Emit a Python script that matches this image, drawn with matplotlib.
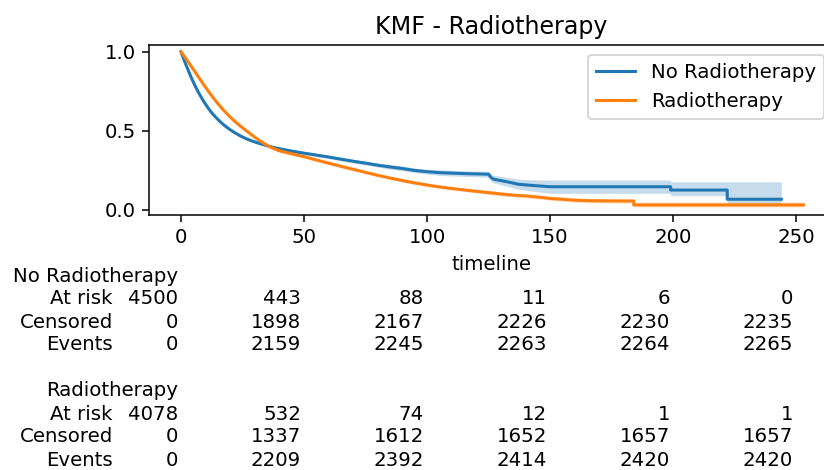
import matplotlib
matplotlib.use("Agg")
import matplotlib.pyplot as plt
from matplotlib import transforms

# Kaplan-Meier curves
# (a time repeated twice marks a visible drop in the curve)
nr_label = "No Radiotherapy"
nr_time = [0, 1, 2, 3, 4, 5, 6, 7, 8, 9, 10, 11, 12, 13, 14, 15, 16, 17, 18, 19, 20,
           22, 24, 26, 28, 30, 32, 34, 36, 38, 40,
           45, 50, 55, 60, 65, 70, 75, 80, 85, 90, 95, 100, 105, 110, 115, 120,
           125, 126, 127, 132, 137, 142, 150, 199, 199, 222, 222, 244]
nr_surv = [1.0, 0.958, 0.918, 0.88, 0.843, 0.808, 0.776, 0.746, 0.718, 0.692, 0.668,
           0.645, 0.624, 0.605, 0.588, 0.572, 0.557, 0.543, 0.53, 0.518, 0.507,
           0.487, 0.469, 0.454, 0.441, 0.43, 0.42, 0.411, 0.402, 0.394, 0.387,
           0.372, 0.359, 0.347, 0.335, 0.321, 0.308, 0.296, 0.283, 0.272, 0.262,
           0.25, 0.242, 0.236, 0.233, 0.23, 0.228,
           0.226, 0.205, 0.195, 0.18, 0.163, 0.156, 0.147, 0.147, 0.126, 0.126,
           0.068, 0.068]
nr_lower = [1.0, 0.952, 0.912, 0.874, 0.837, 0.802, 0.770, 0.740, 0.712, 0.686, 0.662,
            0.638, 0.617, 0.598, 0.581, 0.565, 0.550, 0.536, 0.523, 0.511, 0.500,
            0.479, 0.461, 0.446, 0.433, 0.422, 0.412, 0.403, 0.394, 0.386, 0.379,
            0.362, 0.349, 0.337, 0.325, 0.309, 0.296, 0.284, 0.271, 0.257, 0.247,
            0.235, 0.227, 0.218, 0.215, 0.212, 0.210,
            0.207, 0.183, 0.171, 0.152, 0.131, 0.121, 0.105, 0.105, 0.09, 0.09,
            0.035, 0.035]
nr_upper = [1.0, 0.964, 0.924, 0.886, 0.849, 0.814, 0.782, 0.752, 0.724, 0.698, 0.674,
            0.652, 0.631, 0.612, 0.595, 0.579, 0.564, 0.550, 0.537, 0.525, 0.514,
            0.495, 0.477, 0.462, 0.449, 0.438, 0.428, 0.419, 0.410, 0.402, 0.395,
            0.382, 0.369, 0.357, 0.345, 0.333, 0.320, 0.308, 0.295, 0.287, 0.277,
            0.265, 0.257, 0.254, 0.251, 0.248, 0.246,
            0.245, 0.227, 0.219, 0.208, 0.195, 0.191, 0.189, 0.189, 0.178, 0.178,
            0.178, 0.178]

rt_label = "Radiotherapy"
rt_time = [0, 1, 2, 3, 4, 5, 6, 7, 8, 9, 10, 11, 12, 13, 14, 15, 16, 17, 18, 19, 20,
           22, 24, 26, 28, 30, 32, 34, 36, 38, 40,
           45, 50, 55, 60, 65, 70, 75, 80, 85, 90, 95, 100, 105, 110, 115, 120,
           125, 130, 135, 140, 145, 150, 155, 160, 165, 170, 175, 184, 184, 253]
rt_surv = [1.0, 0.978, 0.956, 0.934, 0.912, 0.889, 0.866, 0.843, 0.82, 0.797, 0.775,
           0.753, 0.732, 0.711, 0.691, 0.672, 0.654, 0.636, 0.619, 0.603, 0.587,
           0.558, 0.532, 0.507, 0.484, 0.46, 0.438, 0.418, 0.40, 0.386, 0.374,
           0.355, 0.337, 0.316, 0.296, 0.276, 0.257, 0.238, 0.219, 0.202, 0.186,
           0.171, 0.158, 0.146, 0.136, 0.127, 0.118,
           0.11, 0.101, 0.094, 0.089, 0.082, 0.073, 0.068, 0.062, 0.059, 0.058,
           0.057, 0.057, 0.032, 0.032]
rt_lower = [1.0, 0.972, 0.950, 0.928, 0.906, 0.883, 0.860, 0.837, 0.814, 0.791, 0.769,
            0.747, 0.726, 0.705, 0.685, 0.666, 0.648, 0.630, 0.613, 0.597, 0.581,
            0.550, 0.524, 0.499, 0.476, 0.452, 0.430, 0.410, 0.392, 0.378, 0.366,
            0.346, 0.328, 0.307, 0.287, 0.267, 0.248, 0.229, 0.210, 0.192, 0.176,
            0.161, 0.148, 0.136, 0.126, 0.117, 0.108,
            0.098, 0.089, 0.082, 0.077, 0.070, 0.061, 0.055, 0.049, 0.046, 0.045,
            0.044, 0.044, 0.019, 0.019]
rt_upper = [1.0, 0.984, 0.962, 0.940, 0.918, 0.895, 0.872, 0.849, 0.826, 0.803, 0.781,
            0.759, 0.738, 0.717, 0.697, 0.678, 0.660, 0.642, 0.625, 0.609, 0.593,
            0.566, 0.540, 0.515, 0.492, 0.468, 0.446, 0.426, 0.408, 0.394, 0.382,
            0.364, 0.346, 0.325, 0.305, 0.285, 0.266, 0.247, 0.228, 0.212, 0.196,
            0.181, 0.168, 0.156, 0.146, 0.137, 0.128,
            0.122, 0.113, 0.106, 0.101, 0.094, 0.085, 0.081, 0.075, 0.072, 0.071,
            0.070, 0.070, 0.050, 0.050]

# at-risk table under the plot
table_ticks = [0, 50, 100, 150, 200, 250]
row_names = ["At risk", "Censored", "Events"]
nr_at_risk = [4500, 443, 88, 11, 6, 0]
nr_censored = [0, 1898, 2167, 2226, 2230, 2235]
nr_events = [0, 2159, 2245, 2263, 2264, 2265]
rt_at_risk = [4078, 532, 74, 12, 1, 1]
rt_censored = [0, 1337, 1612, 1652, 1657, 1657]
rt_events = [0, 2209, 2392, 2414, 2420, 2420]

plt.rcParams["font.size"] = 10.4

DPI = 137
W, H = 824, 470
fig = plt.figure(figsize=(W / DPI, H / DPI), dpi=DPI)
ax = fig.add_axes([149 / W, 1 - 215 / H, (834 - 149) / W, 170 / H])

curves = [
    (nr_label, nr_time, nr_surv, nr_lower, nr_upper, "tab:blue"),
    (rt_label, rt_time, rt_surv, rt_lower, rt_upper, "tab:orange"),
]
for label, t, s, lo, hi, color in curves:
    ax.plot(t, s, color=color, label=label, linewidth=1.6)
    ax.fill_between(t, lo, hi, color=color, alpha=0.25, linewidth=0)

ax.set_xlim(-13, 265.4)
ax.set_ylim(-0.0316, 1.0423)
ax.set_xticks(table_ticks)
ax.set_yticks([0.0, 0.5, 1.0])
ax.set_xlabel("timeline")
ax.set_title("KMF - Radiotherapy")
ax.legend(loc="upper right")

# table text, one line every ~23 px below the axes
blend = transforms.blended_transform_factory(ax.transData, fig.transFigure)
num_trans = blend + transforms.ScaledTranslation(-3 / DPI, 0, fig.dpi_scale_trans)
name_trans = blend + transforms.ScaledTranslation(-68 / DPI, 0, fig.dpi_scale_trans)


def row_y(row):
    return 1 - (276 + row * 23) / H


groups = [
    (nr_label, [nr_at_risk, nr_censored, nr_events]),
    (rt_label, [rt_at_risk, rt_censored, rt_events]),
]
for g, (name, rows) in enumerate(groups):
    base = g * 5
    ax.text(0, row_y(base), name, transform=num_trans, ha="right", va="center")
    for r, (row_name, values) in enumerate(zip(row_names, rows)):
        y = row_y(base + 1 + r)
        ax.text(0, y, row_name, transform=name_trans, ha="right", va="center")
        for t, v in zip(table_ticks, values):
            ax.text(t, y, str(v), transform=num_trans, ha="right", va="center")

fig.savefig("out.png", dpi=DPI)
